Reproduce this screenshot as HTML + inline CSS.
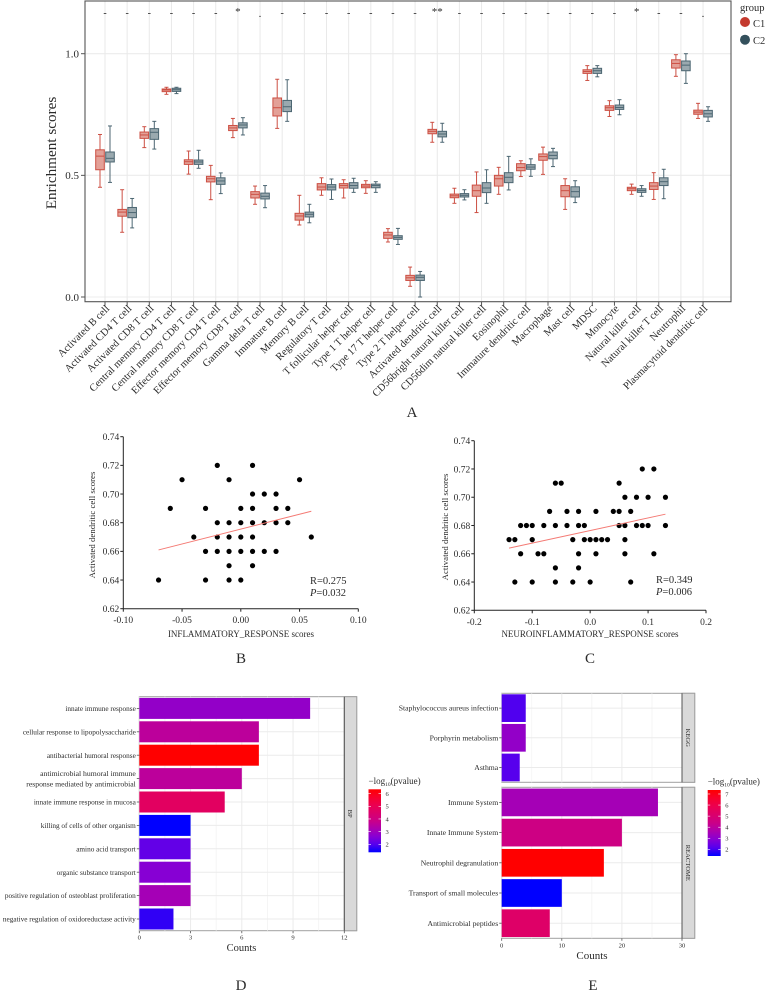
<!DOCTYPE html>
<html lang="en">
<head>
<meta charset="utf-8">
<title>Immune infiltration figure</title>
<style>
html,body{margin:0;padding:0;background:#fff;width:766px;height:991px;overflow:hidden}
svg{display:block;font-family:"Liberation Serif",serif}
text{fill:#2b2b2b}
</style>
</head>
<body>
<svg id="figure" xmlns="http://www.w3.org/2000/svg" width="766" height="991" viewBox="0 0 766 991">
  <defs>
    <linearGradient id="heat" x1="0" y1="1" x2="0" y2="0">
      <stop offset="0" stop-color="rgb(0,0,255)"/>
      <stop offset="0.125" stop-color="rgb(85,0,238)"/>
      <stop offset="0.25" stop-color="rgb(135,0,212)"/>
      <stop offset="0.375" stop-color="rgb(172,0,175)"/>
      <stop offset="0.5" stop-color="rgb(202,0,136)"/>
      <stop offset="0.75" stop-color="rgb(235,0,80)"/>
      <stop offset="0.875" stop-color="rgb(247,0,45)"/>
      <stop offset="1" stop-color="rgb(255,0,0)"/>
    </linearGradient>
  </defs>
  <g id="panelA"></g>
  <g id="panelB"></g>
  <g id="panelC"></g>
  <g id="panelD"></g>
  <g id="panelE"></g>
  <text x="412" y="417" font-size="15" text-anchor="middle">A</text>
  <text x="241" y="663" font-size="15" text-anchor="middle">B</text>
  <text x="590" y="663" font-size="15" text-anchor="middle">C</text>
  <text x="241" y="990" font-size="15" text-anchor="middle">D</text>
  <text x="593" y="990" font-size="15" text-anchor="middle">E</text>
</svg>
<script>
/* ---------- Panel A data ---------- */
const cellTypes = ["Activated B cell","Activated CD4 T cell","Activated CD8 T cell","Central memory CD4 T cell","Central memory CD8 T cell","Effector memory CD4 T cell","Effector memory CD8 T cell","Gamma delta T cell","Immature B cell","Memory B cell","Regulatory T cell","T follicular helper cell","Type 1 T helper cell","Type 17 T helper cell","Type 2 T helper cell","Activated dendritic cell","CD56bright natural killer cell","CD56dim natural killer cell","Eosinophil","Immature dendritic cell","Macrophage","Mast cell","MDSC","Monocyte","Natural killer cell","Natural killer T cell","Neutrophil","Plasmacytoid dendritic cell"];
const significance = ["-","-","-","-","-","-","*",".","-","-","-","-","-","-","-","**","-","-","-","-","-","-","-","-","*","-","-","."];
const c1Low  = [.451,.266,.614,.833,.505,.400,.655,.381,.693,.296,.418,.407,.426,.226,.044,.636,.385,.347,.422,.495,.504,.360,.890,.742,.422,.401,.907,.734];
const c1Q1   = [.523,.332,.652,.844,.545,.473,.684,.407,.744,.316,.440,.448,.449,.241,.068,.671,.408,.414,.456,.519,.562,.412,.919,.767,.437,.442,.941,.751];
const c1Med  = [.579,.349,.666,.851,.556,.486,.695,.422,.778,.333,.452,.458,.456,.255,.079,.681,.416,.437,.486,.532,.577,.437,.927,.778,.445,.456,.960,.760];
const c1Q3   = [.605,.360,.678,.855,.564,.496,.705,.433,.818,.344,.466,.466,.463,.266,.089,.689,.423,.460,.500,.548,.588,.458,.934,.786,.451,.470,.975,.768];
const c1High = [.668,.441,.700,.862,.600,.541,.734,.456,.895,.418,.490,.482,.478,.281,.123,.718,.447,.514,.533,.560,.616,.486,.951,.807,.464,.511,.996,.796];
const c2Low  = [.471,.284,.608,.836,.529,.425,.666,.367,.722,.305,.401,.430,.430,.216,.000,.636,.399,.385,.440,.496,.536,.388,.905,.749,.414,.404,.878,.722];
const c2Q1   = [.555,.326,.648,.845,.545,.463,.695,.403,.762,.329,.440,.447,.449,.237,.068,.658,.411,.429,.470,.525,.568,.411,.919,.771,.430,.458,.930,.740];
const c2Med  = [.570,.347,.677,.852,.555,.477,.707,.414,.782,.340,.452,.458,.458,.245,.081,.670,.418,.448,.492,.534,.582,.433,.930,.779,.438,.474,.953,.753];
const c2Q3   = [.596,.368,.692,.858,.563,.490,.716,.427,.808,.349,.462,.470,.464,.252,.090,.681,.425,.470,.511,.544,.596,.453,.940,.789,.445,.490,.970,.767];
const c2High = [.703,.405,.722,.862,.603,.510,.737,.458,.893,.381,.485,.488,.474,.282,.105,.714,.441,.523,.578,.568,.611,.478,.951,.811,.458,.525,1.00,.782];
const enrichTicks = [0, 0.5, 1];
const enrichTickLabels = ["0.0","0.5","1.0"];

/* ---------- Panels B and C data ---------- */
const scatterYTicks = [0.62,0.64,0.66,0.68,0.70,0.72,0.74];
const bXTicks = [-0.10,-0.05,0,0.05,0.10];
const bXTickLabels = ["-0.10","-0.05","0.00","0.05","0.10"];
const bScoresX = [-.02,.01,-.05,-.01,.05,.01,.02,.03,-.06,-.03,0,.01,.03,.04,-.02,-.01,0,.01,.02,.03,.04,-.04,-.02,-.01,0,.01,.06,-.03,-.02,-.01,0,.01,.02,.03,-.01,.01,-.07,-.03,-.01,0];
const bScoresY = [.72,.72,.71,.71,.71,.70,.70,.70,.69,.69,.69,.69,.69,.69,.68,.68,.68,.68,.68,.68,.68,.67,.67,.67,.67,.67,.67,.66,.66,.66,.66,.66,.66,.66,.65,.65,.64,.64,.64,.64];
const bTrendX = [-0.07,0.06];
const bTrendY = [0.661,0.688];
const cXTicks = [-0.2,-0.1,0,0.1,0.2];
const cXTickLabels = ["-0.2","-0.1","0.0","0.1","0.2"];
const cScoresX = [.09,.11,-.06,-.05,.05,.06,.08,.10,.13,-.07,-.04,-.02,.01,.04,.05,.07,-.12,-.11,-.10,-.08,-.06,-.04,-.02,-.01,.05,.06,.08,.09,.10,.13,-.14,-.13,-.10,-.03,-.01,0,.01,.02,.03,.06,-.12,-.09,-.08,-.02,.01,.06,.11,-.06,-.02,-.13,-.10,-.06,-.03,0,.07];
const cScoresY = [.72,.72,.71,.71,.71,.70,.70,.70,.70,.69,.69,.69,.69,.69,.69,.69,.68,.68,.68,.68,.68,.68,.68,.68,.68,.68,.68,.68,.68,.68,.67,.67,.67,.67,.67,.67,.67,.67,.67,.67,.66,.66,.66,.66,.66,.66,.66,.65,.65,.64,.64,.64,.64,.64,.64];
const cTrendX = [-0.14,0.13];
const cTrendY = [0.664,0.688];

/* ---------- Panel D data ---------- */
const dTerms = ["innate immune response","cellular response to lipopolysaccharide","antibacterial humoral response","antimicrobial humoral immune\nresponse mediated by antimicrobial","innate immune response in mucosa","killing of cells of other organism","amino acid transport","organic substance transport","positive regulation of osteoblast proliferation","negative regulation of oxidoreductase activity"];
const dCounts = [10,7,7,6,5,3,3,3,3,2];
const dLogP = [2.81,3.56,6.34,3.56,4.75,1.37,2.17,2.61,3.11,1.72];
const dXTicks = [0,3,6,9,12];
const dLegendTicks = [2,3,4,5,6];

/* ---------- Panel E data ---------- */
const keggTerms = ["Staphylococcus aureus infection","Porphyrin metabolism","Asthma"];
const keggCounts = [4,4,3];
const keggLogP = [2.10,3.13,2.17];
const reactomeTerms = ["Immune System","Innate Immune System","Neutrophil degranulation","Transport of small molecules","Antimicrobial peptides"];
const reactomeCounts = [26,20,17,10,8];
const reactomeLogP = [3.49,4.50,7.36,1.40,5.27];
const eXTicks = [0,10,20,30];
const eLegendTicks = [2,3,4,5,6,7];

/* ---------- helpers ---------- */
const NS = "http://www.w3.org/2000/svg";
function mk(parent, tag, attrs, txt) {
  const n = document.createElementNS(NS, tag);
  for (const k in attrs) n.setAttribute(k, attrs[k]);
  if (txt !== undefined) n.textContent = txt;
  parent.appendChild(n);
  return n;
}
function scale(d0, d1, r0, r1) { return v => r0 + (v - d0) * (r1 - r0) / (d1 - d0); }
function slug(s) { return String(s).toLowerCase().replace(/[^a-z0-9]+/g, "-").replace(/^-|-$/g, ""); }
/* perceptual blue-to-red ramp, same stops as the colour bar gradient */
const rampT = [0,.125,.25,.375,.5,.75,.875,1];
const rampR = [0,85,135,172,202,235,247,255];
const rampB = [255,238,212,175,136,80,45,0];
function heat(v, lo, hi) {
  const t = Math.max(0, Math.min(1, (v - lo) / (hi - lo)));
  let i = 0;
  while (i < rampT.length - 2 && t > rampT[i + 1]) i++;
  const f = (t - rampT[i]) / (rampT[i + 1] - rampT[i]);
  return "rgb(" + Math.round(rampR[i] + f * (rampR[i + 1] - rampR[i])) + ",0," + Math.round(rampB[i] + f * (rampB[i + 1] - rampB[i])) + ")";
}

/* ---------- Panel A ---------- */
(function () {
  const g = document.getElementById("panelA");
  const L = 85, R = 731, T = 1, B = 301.7;
  const y = scale(0, 1, 297, 53.7);
  const x = i => 105 + i * 22.15;
  enrichTicks.forEach((v, i) => {
    const grid = mk(g, "line", {x1:L, x2:R, y1:y(v), y2:y(v), stroke:"#ececec", "stroke-width":1.1});
    
    
    const tick = mk(g, "line", {x1:L-4, x2:L, y1:y(v), y2:y(v), stroke:"#555", "stroke-width":1});
    
    
    const lab = mk(g, "text", {x:L-6, y:y(v)+3.8, "font-size":11, "text-anchor":"end"}, enrichTickLabels[i]);
    
    
  });
  cellTypes.forEach((name, i) => {
    const grid = mk(g, "line", {x1:x(i), x2:x(i), y1:T, y2:B, stroke:"#e9e9e9", "stroke-width":1});
    
    
  });
  const frame = mk(g, "rect", {x:L, y:T, width:R-L, height:B-T, fill:"none", stroke:"#555", "stroke-width":1.1});
  
  
  function box(i, off, col, fill, lo, q1, med, q3, hi, group) {
    const cx = x(i) + off, w = 8.6, cap = 2;
    const b = mk(g, "g", {});
    
    
    mk(b, "line", {x1:cx, x2:cx, y1:y(hi), y2:y(q3), stroke:col, "stroke-width":1});
    mk(b, "line", {x1:cx, x2:cx, y1:y(q1), y2:y(lo), stroke:col, "stroke-width":1});
    mk(b, "line", {x1:cx-cap, x2:cx+cap, y1:y(hi), y2:y(hi), stroke:col, "stroke-width":1});
    mk(b, "line", {x1:cx-cap, x2:cx+cap, y1:y(lo), y2:y(lo), stroke:col, "stroke-width":1});
    mk(b, "rect", {x:cx-w/2, y:y(q3), width:w, height:Math.max(1, y(q1)-y(q3)), fill:fill, stroke:col, "stroke-width":1});
    mk(b, "line", {x1:cx-w/2, x2:cx+w/2, y1:y(med), y2:y(med), stroke:col, "stroke-width":1});
  }
  cellTypes.forEach((name, i) => {
    box(i, -5, "#cc4f43", "#e3a097", c1Low[i], c1Q1[i], c1Med[i], c1Q3[i], c1High[i], "c1");
    box(i, 5, "#4c6672", "#9aa9af", c2Low[i], c2Q1[i], c2Med[i], c2Q3[i], c2High[i], "c2");
    const sig = significance[i];
    const sy = sig === "-" ? 16 : (sig === "." ? 17 : 15);
    const st = mk(g, "text", {x:x(i), y:sy, "font-size":sig === "-" ? 10 : 11, "text-anchor":"middle"}, sig);
    
    
    const tick = mk(g, "line", {x1:x(i), x2:x(i), y1:B, y2:B+4, stroke:"#555", "stroke-width":1});
    
    
    const lx = x(i) + 5, ly = B + 7.5;
    const lab = mk(g, "text", {x:lx, y:ly, "font-size":10.5, "text-anchor":"end", transform:"rotate(-45 " + lx + " " + ly + ")"}, name);
    
    
  });
  const yt = mk(g, "text", {x:56, y:153, "font-size":15.2, "text-anchor":"middle", transform:"rotate(-90 56 153)"}, "Enrichment scores");
  
  
  const lt = mk(g, "text", {x:740, y:11, "font-size":10.5}, "group");
  
  
  const d1 = mk(g, "circle", {cx:745, cy:22, r:5, fill:"#c43a2e"});
  
  
  const t1 = mk(g, "text", {x:753, y:27, "font-size":10.5}, "C1");
  
  
  const d2 = mk(g, "circle", {cx:745, cy:39.7, r:5, fill:"#34505c"});
  
  
  const t2 = mk(g, "text", {x:753, y:44, "font-size":10.5}, "C2");
  
  
})();

/* ---------- Scatter panels ---------- */
function scatter(cfg) {
  const g = document.getElementById(cfg.id);
  const x = scale(cfg.xMin, cfg.xMax, cfg.L, cfg.R);
  const y = scale(0.62, 0.74, cfg.B, cfg.T);
  const ax = mk(g, "line", {x1:cfg.L, x2:cfg.R, y1:cfg.B, y2:cfg.B, stroke:"#222", "stroke-width":1});
  
  
  const ay = mk(g, "line", {x1:cfg.L, x2:cfg.L, y1:cfg.T, y2:cfg.B, stroke:"#222", "stroke-width":1});
  
  
  scatterYTicks.forEach(v => {
    const t = mk(g, "line", {x1:cfg.L-3, x2:cfg.L, y1:y(v), y2:y(v), stroke:"#222", "stroke-width":1});
    
    
    const l = mk(g, "text", {x:cfg.L-4, y:y(v)+3.3, "font-size":9.5, "text-anchor":"end"}, v.toFixed(2));
    
    
  });
  cfg.xTicks.forEach((v, i) => {
    const t = mk(g, "line", {x1:x(v), x2:x(v), y1:cfg.B, y2:cfg.B+3, stroke:"#222", "stroke-width":1});
    
    
    const l = mk(g, "text", {x:x(v), y:cfg.B+14.5, "font-size":9.5, "text-anchor":"middle"}, cfg.xLabels[i]);
    
    
  });
  cfg.px.forEach((v, i) => {
    const c = mk(g, "circle", {cx:x(v), cy:y(cfg.py[i]), r:2.6, fill:"#000"});
    
    
  });
  const tr = mk(g, "line", {x1:x(cfg.tx[0]), y1:y(cfg.ty[0]), x2:x(cfg.tx[1]), y2:y(cfg.ty[1]), stroke:"#f47a74", "stroke-width":1});
  
  
  const xt = mk(g, "text", {x:cfg.xLabelX, y:637, "font-size":9, "text-anchor":"middle"}, cfg.xTitle);
  
  
  const yt = mk(g, "text", {x:cfg.yLabelX, y:cfg.yLabelY, "font-size":8.8, "text-anchor":"middle", transform:"rotate(-90 " + cfg.yLabelX + " " + cfg.yLabelY + ")"}, "Activated dendritic cell scores");
  
  
  const r = mk(g, "text", {x:cfg.statX, y:cfg.statY, "font-size":10.5}, cfg.rText);
  
  
  const p = mk(g, "text", {x:cfg.statX, y:cfg.statY+12, "font-size":10.5});
  
  
  mk(p, "tspan", {"font-style":"italic"}, "P");
  mk(p, "tspan", {}, "=" + cfg.pText);
}
scatter({id:"panelB", L:123.3, R:358.3, T:436.7, B:608.7, xMin:-0.1, xMax:0.1, xTicks:bXTicks, xLabels:bXTickLabels, px:bScoresX, py:bScoresY, tx:bTrendX, ty:bTrendY, xTitle:"INFLAMMATORY_RESPONSE scores", xLabelX:241, yLabelX:95, yLabelY:525, statX:310, statY:584, rText:"R=0.275", pText:"0.032"});
scatter({id:"panelC", L:474.3, R:706, T:440.7, B:610.3, xMin:-0.2, xMax:0.2, xTicks:cXTicks, xLabels:cXTickLabels, px:cScoresX, py:cScoresY, tx:cTrendX, ty:cTrendY, xTitle:"NEUROINFLAMMATORY_RESPONSE scores", xLabelX:590, yLabelX:448, yLabelY:527, statX:656, statY:583, rText:"R=0.349", pText:"0.006"});

/* ---------- Bar panel pieces ---------- */
function facet(g, cfg) {
  const x = cfg.x;
  const frame = mk(g, "rect", {x:cfg.L, y:cfg.T, width:cfg.SR-cfg.L, height:cfg.B-cfg.T, fill:"#fff", stroke:"#a0a0a0", "stroke-width":1});
  
  
  cfg.minor.forEach(v => {
    const m = mk(g, "line", {x1:x(v), x2:x(v), y1:cfg.T, y2:cfg.B, stroke:"#f3f3f3", "stroke-width":.8});
    
    
  });
  cfg.ticks.forEach(v => {
    const m = mk(g, "line", {x1:x(v), x2:x(v), y1:cfg.T, y2:cfg.B, stroke:"#ebebeb", "stroke-width":1});
    
    
  });
  const step = (cfg.B - cfg.T) / cfg.terms.length;
  cfg.terms.forEach((term, i) => {
    const cy = cfg.T + step * (i + 0.5);
    const h = mk(g, "line", {x1:cfg.L, x2:cfg.R, y1:cy, y2:cy, stroke:"#ebebeb", "stroke-width":1});
    
    
    const bar = mk(g, "rect", {x:cfg.L, y:cy-cfg.barH/2, width:x(cfg.counts[i])-cfg.L, height:cfg.barH, fill:heat(cfg.logp[i], cfg.lo, cfg.hi)});
    
    
    const t = mk(g, "line", {x1:cfg.L-2.5, x2:cfg.L, y1:cy, y2:cy, stroke:"#555", "stroke-width":.8});
    
    
    const lines = term.split("\n");
    lines.forEach((line, k) => {
      const ty = cy + 2.6 + (k - (lines.length - 1) / 2) * 10.3;
      const lab = mk(g, "text", {x:cfg.L-3.5, y:ty, "font-size":lines.length > 1 ? 7.7 : cfg.labelSize, "text-anchor":"end"}, line);
      
      
    });
  });
  const s = mk(g, "rect", {x:cfg.R, y:cfg.T, width:cfg.SR-cfg.R, height:cfg.B-cfg.T, fill:"#d9d9d9", stroke:"#a0a0a0", "stroke-width":1});
  
  
  const d = mk(g, "line", {x1:cfg.R, x2:cfg.R, y1:cfg.T, y2:cfg.B, stroke:"#555", "stroke-width":1});
  
  
  const sx = (cfg.R + cfg.SR) / 2 - 2.4, sy = (cfg.T + cfg.B) / 2;
  const st = mk(g, "text", {x:sx, y:sy, "font-size":6.6, "text-anchor":"middle", transform:"rotate(90 " + sx + " " + sy + ")"}, cfg.strip);
  
  
}
function xAxisBottom(g, x, ticks, B, size) {
  ticks.forEach(v => {
    const t = mk(g, "line", {x1:x(v), x2:x(v), y1:B, y2:B+2.5, stroke:"#555", "stroke-width":.8});
    
    
    const l = mk(g, "text", {x:x(v), y:B+9, "font-size":size, "text-anchor":"middle"}, v);
    
    
  });
}
function colorLegend(g, X, Y, W, H, lo, hi, ticks, titleSize) {
  const ty = scale(lo, hi, Y + H, Y);
  const title = mk(g, "text", {x:X, y:Y-5.5, "font-size":titleSize});
  
  
  mk(title, "tspan", {}, "\u2212log");
  mk(title, "tspan", {"font-size":titleSize*0.62, dy:2}, "10");
  mk(title, "tspan", {dy:-2}, "(pvalue)");
  const bar = mk(g, "rect", {x:X, y:Y, width:W, height:H, fill:"url(#heat)"});
  
  
  ticks.forEach(v => {
    const a = mk(g, "line", {x1:X, x2:X+2.5, y1:ty(v), y2:ty(v), stroke:"#fff", "stroke-width":.6});
    
    
    const b = mk(g, "line", {x1:X+W-2.5, x2:X+W, y1:ty(v), y2:ty(v), stroke:"#fff", "stroke-width":.6});
    
    
    const l = mk(g, "text", {x:X+W+4.5, y:ty(v)+2.3, "font-size":6.5}, v);
    
    
  });
}

/* ---------- Panel D ---------- */
(function () {
  const g = document.getElementById("panelD");
  const x = scale(0, 12, 139.3, 344.3);
  facet(g, {x:x, L:139.3, R:344.3, SR:356.7, T:696.7, B:930.7, strip:"BP", terms:dTerms, counts:dCounts, logp:dLogP, lo:1.37, hi:6.34, barH:21, labelSize:7.25, ticks:dXTicks, minor:[1.5,4.5,7.5,10.5]});
  xAxisBottom(g, x, dXTicks, 930.7, 6.6);
  const t = mk(g, "text", {x:241.5, y:951, "font-size":10.5, "text-anchor":"middle"}, "Counts");
  
  
  colorLegend(g, 368.5, 789.3, 12.5, 63, 1.37, 6.34, dLegendTicks, 9);
})();

/* ---------- Panel E ---------- */
(function () {
  const g = document.getElementById("panelE");
  const x = scale(0, 30, 501.7, 682);
  facet(g, {x:x, L:501.7, R:682, SR:694.7, T:693.3, B:782.3, strip:"KEGG", terms:keggTerms, counts:keggCounts, logp:keggLogP, lo:1.4, hi:7.36, barH:27.7, labelSize:7.7, ticks:eXTicks, minor:[5,15,25]});
  facet(g, {x:x, L:501.7, R:682, SR:694.7, T:787.3, B:938.3, strip:"REACTOME", terms:reactomeTerms, counts:reactomeCounts, logp:reactomeLogP, lo:1.4, hi:7.36, barH:27.7, labelSize:7.7, ticks:eXTicks, minor:[5,15,25]});
  xAxisBottom(g, x, eXTicks, 938.3, 6.6);
  const t = mk(g, "text", {x:592, y:959, "font-size":11, "text-anchor":"middle"}, "Counts");
  
  
  colorLegend(g, 707.7, 790, 13, 66, 1.4, 7.36, eLegendTicks, 9);
})();
</script>
</body>
</html>
